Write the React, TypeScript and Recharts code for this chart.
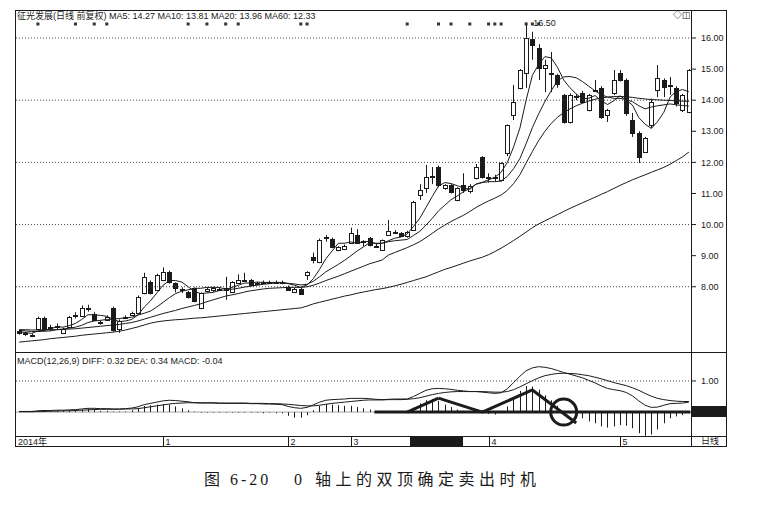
import React from "react";
import {
  Bar,
  ComposedChart,
  Line,
  ReferenceDot,
  ReferenceLine,
  XAxis,
  YAxis,
} from "recharts";

// daily candles (price units)
const opens = [
  6.58, 6.5, 6.42, 6.64, 7.0, 6.7, 6.72, 6.52, 6.71, 7.08,
  7.07, 7.3, 7.13, 6.84, 6.94, 7.32, 6.64, 7.0, 7.1, 7.16,
  7.8, 8.15, 7.9, 8.22, 8.48, 8.12, 7.92, 7.83, 7.96, 7.32,
  7.86, 7.88, 7.92, 7.9, 7.83, 8.12, 8.22, 8.22, 8.1, 8.16,
  8.14, 8.15, 8.16, 8.0, 7.84, 7.93, 8.38, 8.96, 8.8, 9.58,
  9.54, 9.18, 9.22, 9.41, 9.67, 9.44, 9.57, 9.3, 9.18, 9.67,
  9.76, 9.73, 9.63, 9.83, 10.95, 11.18, 11.56, 11.85, 11.18, 11.27,
  10.79, 11.27, 11.08, 11.5, 12.17, 11.5, 11.52, 11.43, 12.3, 13.52,
  14.39, 14.87, 15.97, 15.68, 15.04, 14.87, 14.81, 14.17, 13.3, 14.1,
  14.23, 13.68, 14.33, 14.39, 13.52, 14.23, 14.87, 14.65, 13.36, 12.95,
  12.33, 13.2, 14.33, 14.65, 14.49, 14.39, 13.68, 13.62,
];
const highs = [
  6.62, 6.55, 6.5, 7.04, 7.04, 6.78, 6.82, 6.68, 7.06, 7.18,
  7.4, 7.42, 7.18, 6.92, 7.08, 7.36, 6.95, 7.08, 7.2, 7.72,
  8.45, 8.2, 8.42, 8.62, 8.52, 8.14, 7.98, 7.86, 7.98, 7.82,
  7.98, 8.0, 7.98, 8.32, 8.18, 8.4, 8.45, 8.25, 8.16, 8.2,
  8.2, 8.2, 8.2, 8.04, 7.96, 7.96, 8.5, 9.1, 9.55, 9.66,
  9.58, 9.3, 9.36, 9.9, 9.85, 9.5, 9.6, 9.38, 9.52, 10.15,
  9.82, 9.76, 9.8, 10.76, 11.3, 11.92, 11.85, 11.9, 11.3, 11.3,
  11.2, 11.65, 11.3, 11.95, 12.2, 11.65, 11.6, 12.0, 13.22, 14.49,
  15.0, 16.5, 16.2, 15.8, 15.3, 15.55, 14.85, 14.2, 14.22, 14.2,
  14.3, 14.2, 14.65, 14.45, 13.72, 14.97, 14.97, 14.7, 13.59, 13.0,
  12.82, 14.05, 15.13, 14.7, 14.74, 14.45, 14.2, 15.0,
];
const lows = [
  6.46, 6.42, 6.38, 6.6, 6.58, 6.58, 6.62, 6.48, 6.68, 6.98,
  7.05, 7.2, 6.9, 6.78, 6.9, 6.56, 6.52, 6.96, 7.06, 7.12,
  7.76, 7.75, 7.86, 8.18, 8.1, 7.82, 7.8, 7.62, 7.5, 7.28,
  7.82, 7.84, 7.86, 7.58, 7.8, 8.1, 8.18, 8.02, 8.06, 8.08,
  8.1, 8.1, 8.08, 7.88, 7.8, 7.74, 8.22, 8.75, 8.76, 9.45,
  9.24, 9.14, 9.18, 9.38, 9.38, 9.3, 9.3, 9.26, 9.15, 9.64,
  9.7, 9.6, 9.58, 9.8, 10.79, 11.02, 11.3, 11.2, 11.12, 11.0,
  10.75, 11.02, 11.0, 11.45, 11.48, 11.35, 11.4, 11.38, 12.2, 13.36,
  14.35, 14.4, 15.3, 14.65, 14.26, 14.26, 14.4, 13.25, 13.25, 14.0,
  13.9, 13.64, 14.26, 13.4, 13.3, 14.17, 14.6, 13.5, 12.82, 11.98,
  12.3, 13.1, 14.1, 14.1, 14.17, 13.8, 13.62, 13.58,
];
const closes = [
  6.5, 6.47, 6.46, 7.0, 6.64, 6.68, 6.73, 6.64, 7.03, 7.06,
  7.32, 7.32, 6.93, 6.86, 7.03, 6.61, 6.9, 7.03, 7.16, 7.67,
  8.32, 7.8, 8.38, 8.48, 8.15, 7.96, 7.9, 7.67, 7.55, 7.8,
  7.93, 7.96, 7.9, 7.95, 8.15, 8.22, 8.2, 8.06, 8.12, 8.12,
  8.16, 8.13, 8.12, 7.9, 7.93, 7.77, 8.48, 8.86, 9.5, 9.6,
  9.28, 9.28, 9.32, 9.73, 9.41, 9.46, 9.34, 9.32, 9.5, 9.8,
  9.77, 9.64, 9.76, 10.73, 11.11, 11.53, 11.55, 11.27, 11.27, 11.05,
  11.18, 11.11, 11.24, 11.85, 11.53, 11.52, 11.5, 11.98, 13.2, 13.94,
  14.97, 16.0, 15.77, 15.04, 15.13, 14.85, 14.52, 13.3, 14.17, 14.12,
  13.94, 14.17, 14.31, 13.46, 13.68, 14.65, 14.65, 13.59, 12.95, 12.17,
  12.78, 13.95, 14.71, 14.42, 14.48, 13.91, 14.17, 14.97,
];

// moving averages as drawn in the picture
const ma5 = [
  6.55, 6.53, 6.5, 6.58, 6.6, 6.64, 6.72, 6.7, 6.75, 6.82,
  6.95, 7.1, 7.1, 7.08, 7.05, 6.95, 6.88, 6.9, 6.95, 7.1,
  7.35, 7.55, 7.8, 8.05, 8.2, 8.2, 8.15, 8.0, 7.85, 7.78,
  7.8, 7.82, 7.88, 7.9, 7.98, 8.05, 8.12, 8.12, 8.15, 8.14,
  8.14, 8.14, 8.14, 8.1, 8.05, 7.98, 8.06, 8.26, 8.56, 8.9,
  9.15, 9.4, 9.4, 9.44, 9.4, 9.44, 9.46, 9.38, 9.4, 9.48,
  9.56, 9.6, 9.7, 9.94, 10.2, 10.55, 10.9, 11.24, 11.35, 11.32,
  11.25, 11.18, 11.13, 11.3, 11.36, 11.44, 11.52, 11.68, 12.0, 12.5,
  13.1, 14.0, 14.8, 15.15, 15.4, 15.36, 15.06, 14.65, 14.4, 14.2,
  14.05, 14.06, 14.15, 13.98, 13.86, 13.98, 14.14, 14.0, 13.84, 13.44,
  13.23, 13.09, 13.31, 13.61, 14.1, 14.29, 14.34, 14.27,
];
const ma10 = [
  6.6, 6.58, 6.56, 6.56, 6.57, 6.58, 6.62, 6.64, 6.67, 6.7,
  6.76, 6.85, 6.9, 6.92, 6.95, 6.96, 6.98, 7.0, 7.02, 7.09,
  7.15, 7.22, 7.35, 7.5, 7.65, 7.78, 7.86, 7.9, 7.95, 7.95,
  7.98, 7.98, 7.98, 7.92, 7.92, 7.95, 7.99, 8.02, 8.05, 8.08,
  8.1, 8.12, 8.13, 8.11, 8.09, 8.06, 8.08, 8.18, 8.32, 8.48,
  8.6, 8.72, 8.85, 9.0, 9.15, 9.28, 9.42, 9.4, 9.4, 9.45,
  9.48, 9.5, 9.52, 9.65, 9.78, 9.98, 10.2, 10.44, 10.62, 10.8,
  10.92, 11.06, 11.16, 11.3, 11.35, 11.38, 11.38, 11.4, 11.55, 11.8,
  12.12, 12.6, 13.12, 13.56, 13.96, 14.3, 14.62, 14.75, 14.76, 14.72,
  14.6, 14.45, 14.3, 14.18, 14.1, 14.06, 14.06, 14.02, 13.95, 13.82,
  13.72, 13.78, 13.82, 13.85, 13.88, 13.85, 13.83, 13.81,
];
const ma20 = [
  6.62, 6.62, 6.61, 6.61, 6.61, 6.62, 6.62, 6.63, 6.64, 6.65,
  6.67, 6.69, 6.71, 6.73, 6.75, 6.77, 6.79, 6.82, 6.85, 6.9,
  6.96, 7.02, 7.08, 7.14, 7.19, 7.24, 7.3, 7.35, 7.4, 7.45,
  7.52, 7.58, 7.64, 7.7, 7.74, 7.78, 7.83, 7.87, 7.9, 7.93,
  7.95, 7.96, 7.97, 7.98, 7.98, 7.98, 8.0, 8.05, 8.12, 8.2,
  8.27, 8.34, 8.42, 8.5, 8.58, 8.66, 8.74, 8.8, 8.86, 9.02,
  9.1, 9.18, 9.26, 9.35, 9.45, 9.58, 9.72, 9.86, 9.98, 10.1,
  10.2, 10.3, 10.42, 10.55, 10.66, 10.76, 10.85, 10.95, 11.1, 11.32,
  11.6, 11.98, 12.35, 12.7, 13.0, 13.25, 13.45, 13.6, 13.72, 13.82,
  13.9, 13.97, 14.03, 14.07, 14.1, 14.12, 14.12, 14.11, 14.09, 14.06,
  14.04, 14.02, 14.01, 14.0, 13.99, 13.98, 13.97, 13.96,
];
const ma60 = [
  6.22, 6.24, 6.26, 6.28, 6.3, 6.33, 6.35, 6.37, 6.39, 6.41,
  6.44, 6.46, 6.48, 6.5, 6.52, 6.54, 6.57, 6.61, 6.66, 6.71,
  6.77, 6.83, 6.87, 6.9, 6.92, 6.94, 6.95, 6.97, 6.99, 7.0,
  7.02, 7.04, 7.06, 7.08, 7.1, 7.12, 7.14, 7.16, 7.18, 7.2,
  7.22, 7.24, 7.26, 7.28, 7.3, 7.32, 7.38, 7.45, 7.5, 7.55,
  7.6, 7.65, 7.7, 7.74, 7.79, 7.83, 7.87, 7.91, 7.94, 7.98,
  8.03, 8.08, 8.14, 8.2, 8.26, 8.32, 8.4, 8.48, 8.56, 8.62,
  8.69, 8.76, 8.83, 8.89, 8.95, 9.03, 9.13, 9.24, 9.36, 9.49,
  9.62, 9.76, 9.9, 10.02, 10.12, 10.22, 10.32, 10.42, 10.52, 10.61,
  10.7, 10.79, 10.88, 10.97, 11.06, 11.16, 11.26, 11.35, 11.44, 11.52,
  11.6, 11.68, 11.76, 11.84, 11.94, 12.06, 12.18, 12.33,
];

// MACD(12,26,9)
const diff = [
  0.02, 0.02, 0.02, 0.04, 0.05, 0.05, 0.06, 0.06, 0.07, 0.08,
  0.1, 0.12, 0.12, 0.11, 0.11, 0.1, 0.1, 0.11, 0.13, 0.17,
  0.24, 0.28, 0.32, 0.36, 0.38, 0.37, 0.35, 0.33, 0.3, 0.29,
  0.29, 0.29, 0.28, 0.28, 0.28, 0.28, 0.28, 0.27, 0.27, 0.26,
  0.26, 0.25, 0.24, 0.18, 0.14, 0.12, 0.15, 0.23, 0.32, 0.38,
  0.4, 0.41, 0.42, 0.44, 0.44, 0.44, 0.43, 0.41, 0.4, 0.41,
  0.42, 0.42, 0.42, 0.5, 0.6, 0.7, 0.75, 0.76, 0.75, 0.73,
  0.7, 0.68, 0.66, 0.66, 0.64, 0.62, 0.6, 0.62, 0.75, 0.95,
  1.15, 1.33, 1.42, 1.46, 1.44, 1.4, 1.34, 1.27, 1.22, 1.16,
  1.1, 1.02, 0.94, 0.84, 0.76, 0.72, 0.69, 0.63, 0.52, 0.36,
  0.22, 0.15, 0.16, 0.22, 0.27, 0.28, 0.29, 0.32,
];
const dea = [
  0.01, 0.01, 0.01, 0.02, 0.02, 0.03, 0.03, 0.04, 0.04, 0.05,
  0.06, 0.07, 0.08, 0.09, 0.09, 0.09, 0.09, 0.1, 0.1, 0.11,
  0.14, 0.17, 0.2, 0.23, 0.26, 0.28, 0.29, 0.3, 0.3, 0.3,
  0.3, 0.3, 0.29, 0.29, 0.29, 0.29, 0.29, 0.28, 0.28, 0.28,
  0.27, 0.27, 0.26, 0.25, 0.23, 0.21, 0.2, 0.2, 0.22, 0.25,
  0.28, 0.3, 0.32, 0.34, 0.36, 0.38, 0.39, 0.39, 0.39, 0.4,
  0.4, 0.4, 0.41, 0.43, 0.46, 0.51, 0.56, 0.6, 0.63, 0.65,
  0.66, 0.66, 0.66, 0.66, 0.66, 0.65, 0.64, 0.64, 0.66, 0.72,
  0.81, 0.91, 1.01, 1.1, 1.17, 1.21, 1.24, 1.25, 1.24, 1.23,
  1.2, 1.17, 1.12, 1.07, 1.01, 0.95, 0.9, 0.85, 0.78, 0.7,
  0.6, 0.51, 0.44, 0.4, 0.37, 0.35, 0.34, 0.34,
];
const macd = [
  0.02, 0.02, 0.02, 0.04, 0.06, 0.04, 0.06, 0.04, 0.06, 0.06,
  0.08, 0.1, 0.08, 0.04, 0.04, 0.02, 0.02, 0.02, 0.06, 0.12,
  0.2, 0.22, 0.24, 0.26, 0.24, 0.18, 0.12, 0.06, 0.02, -0.02,
  -0.02, -0.02, -0.02, -0.02, -0.02, -0.02, -0.02, -0.02, -0.02, -0.04,
  -0.02, -0.04, -0.04, -0.12, -0.18, -0.18, -0.1, 0.06, 0.2, 0.26,
  0.24, 0.22, 0.2, 0.2, 0.16, 0.12, 0.08, 0.04, 0.02, 0.02,
  0.04, 0.04, 0.02, 0.14, 0.28, 0.38, 0.42, 0.36, 0.24, 0.16,
  0.08, 0.04, 0.02, 0.02, -0.04, -0.06, -0.08, -0.04, 0.18, 0.46,
  0.68, 0.84, 0.82, 0.72, 0.54, 0.38, 0.2, 0.04, -0.04, -0.14,
  -0.2, -0.3, -0.36, -0.46, -0.5, -0.46, -0.42, -0.44, -0.52, -0.68,
  -0.76, -0.72, -0.56, -0.36, -0.2, -0.14, -0.1, -0.04,
];

const priceTicks = [8, 9, 10, 11, 12, 13, 14, 15, 16];
const gridPrices = [8, 10, 12, 14, 16];
const monthStarts = [0, 23, 43, 53, 75, 96];
const monthLabels = ["2014年", "1", "2", "3", "4", "5"];
const eventDays = [3, 9, 12, 14, 27, 30, 33, 35, 45, 46, 62, 67, 69, 72, 75, 76, 77, 81, 82, 83];
const eventLevel = 16.45;

// hand-drawn "double top" marks in the MACD pane (day, value)
const zeroMark = [57, 107];
const topPath = [
  [62, 0],
  [67, 0.45],
  [74, 0],
  [82, 0.71],
  [89, -0.35],
];
const circleAt = [87, 0];

const ink = "#1b1b1b";
const font = "'Liberation Sans', 'Noto Sans CJK SC', sans-serif";

const rows = opens.map((open, i) => ({
  day: i,
  open,
  high: highs[i],
  low: lows[i],
  close: closes[i],
  range: [lows[i], highs[i]],
  ma5: ma5[i],
  ma10: ma10[i],
  ma20: ma20[i],
  ma60: ma60[i],
  diff: diff[i],
  dea: dea[i],
  macd: macd[i],
  event: eventDays.includes(i) ? eventLevel : null,
}));

const peakHigh = Math.max(...highs);
const peakDay = highs.indexOf(peakHigh);

function Candle(props: any) {
  const { x, y, width, height, payload } = props;
  if (payload == null || x == null || y == null) return null;
  const top = Math.min(y, y + height);
  const span = payload.high - payload.low;
  const k = span > 0 ? Math.abs(height) / span : 0;
  const toY = (v: number) => top + (payload.high - v) * k;
  const cx = Math.floor(x + width / 2) + 0.5;
  const bodyTop = Math.round(toY(Math.max(payload.open, payload.close))) + 0.5;
  const bodyBot = Math.max(bodyTop + 1, Math.round(toY(Math.min(payload.open, payload.close))) + 0.5);
  const rising = payload.close > payload.open;
  return (
    <g>
      <line x1={cx} x2={cx} y1={toY(payload.high)} y2={bodyTop} stroke={ink} />
      <line x1={cx} x2={cx} y1={bodyBot} y2={toY(payload.low)} stroke={ink} />
      <rect
        x={cx - 2}
        y={bodyTop}
        width={4}
        height={bodyBot - bodyTop}
        fill={rising ? "#fff" : ink}
        stroke={ink}
      />
    </g>
  );
}

function MacdBar(props: any) {
  const { x, y, width, height } = props;
  if (x == null || y == null) return null;
  const cx = Math.floor(x + width / 2) + 0.5;
  return (
    <line
      x1={cx}
      x2={cx}
      y1={Math.min(y, y + height)}
      y2={Math.max(y, y + height)}
      stroke={ink}
    />
  );
}

function EventDot(props: any) {
  const { cx, cy, value, index } = props;
  if (value == null || cy == null) return <g key={`ev-${index}`} />;
  return <rect key={`ev-${index}`} x={cx - 1.5} y={cy - 1.5} width={3} height={3} fill="#333" />;
}

function MonthTick(props: any) {
  const { x, payload } = props;
  const k = monthStarts.indexOf(payload.value);
  if (k < 0) return <g />;
  const lx = Math.round(x) + 0.5;
  return (
    <g>
      {k > 0 && <line x1={lx} x2={lx} y1={83} y2={94} stroke={ink} />}
      <text x={k > 0 ? lx + 2 : 3} y={92} fontSize={9} fill={ink} fontFamily={font}>
        {monthLabels[k]}
      </text>
    </g>
  );
}

const abs = (left: number, top: number, width: number, height: number, extra = {}) => ({
  position: "absolute" as const,
  left,
  top,
  width,
  height,
  ...extra,
});

export default function App() {
  return (
    <div style={abs(0, 0, 758, 516, { background: "#fff", fontFamily: font, color: ink })}>
      {/* price pane */}
      <div style={abs(15, 10, 712, 343)}>
        <ComposedChart
          width={712}
          height={343}
          data={rows}
          margin={{ top: 0, right: 0, bottom: 0, left: 1 }}
        >
          <XAxis dataKey="day" type="category" hide />
          <YAxis
            orientation="right"
            width={35}
            domain={[5.87, 16.9]}
            allowDataOverflow
            ticks={priceTicks}
            interval={0}
            axisLine={false}
            tickLine={{ stroke: ink }}
            tickSize={4}
            tickMargin={5}
            tick={{ fontSize: 9, fill: ink, fontFamily: font }}
            tickFormatter={(v: number) => v.toFixed(2)}
          />
          {gridPrices.map((p) => (
            <ReferenceLine key={p} y={p} stroke="#444" strokeDasharray="1 2" />
          ))}
          <Bar dataKey="range" barSize={5} shape={(p: any) => <Candle {...p} />} isAnimationActive={false} />
          <Line dataKey="ma60" stroke={ink} dot={false} isAnimationActive={false} />
          <Line dataKey="ma20" stroke={ink} dot={false} isAnimationActive={false} />
          <Line dataKey="ma10" stroke={ink} dot={false} isAnimationActive={false} />
          <Line dataKey="ma5" stroke={ink} dot={false} isAnimationActive={false} />
          <Line
            dataKey="event"
            stroke="none"
            dot={(p: any) => <EventDot {...p} />}
            activeDot={false}
            isAnimationActive={false}
          />
          <ReferenceDot
            x={peakDay}
            y={peakHigh}
            r={0}
            label={{ value: peakHigh.toFixed(2), position: "right", offset: 7, fontSize: 9, fill: ink }}
          />
        </ComposedChart>
      </div>

      {/* MACD pane + time axis */}
      <div style={abs(15, 353, 712, 94)}>
        <ComposedChart
          width={712}
          height={94}
          data={rows}
          margin={{ top: 0, right: 0, bottom: 0, left: 1 }}
        >
          <XAxis
            dataKey="day"
            type="category"
            height={11}
            axisLine={false}
            tickLine={false}
            interval={0}
            tick={(p: any) => <MonthTick {...p} />}
          />
          <YAxis
            orientation="right"
            width={35}
            domain={[-0.77, 1.9]}
            allowDataOverflow
            ticks={[1]}
            axisLine={false}
            tickLine={{ stroke: ink }}
            tickSize={4}
            tickMargin={5}
            tick={{ fontSize: 9, fill: ink, fontFamily: font }}
            tickFormatter={(v: number) => v.toFixed(2)}
          />
          <ReferenceLine y={1} stroke="#444" strokeDasharray="1 2" />
          <ReferenceLine y={0} stroke="#666" strokeWidth={0.6} />
          <Bar dataKey="macd" barSize={1} shape={(p: any) => <MacdBar {...p} />} isAnimationActive={false} />
          <Line dataKey="dea" stroke={ink} dot={false} isAnimationActive={false} />
          <Line dataKey="diff" stroke={ink} dot={false} isAnimationActive={false} />
          <ReferenceLine
            segment={[
              { x: zeroMark[0], y: 0 },
              { x: zeroMark[1], y: 0 },
            ]}
            stroke={ink}
            strokeWidth={3}
            strokeLinecap="square"
          />
          {topPath.slice(1).map((pt, i) => (
            <ReferenceLine
              key={`tp-${i}`}
              segment={[
                { x: topPath[i][0], y: topPath[i][1] },
                { x: pt[0], y: pt[1] },
              ]}
              stroke={ink}
              strokeWidth={3}
            />
          ))}
          <ReferenceDot x={circleAt[0]} y={circleAt[1]} r={13} fill="none" stroke={ink} strokeWidth={3} />
        </ComposedChart>
      </div>

      {/* frame */}
      <div style={abs(15, 10, 712, 437, { border: `1px solid ${ink}`, boxSizing: "border-box", pointerEvents: "none" })} />
      <div style={abs(15, 352, 712, 1, { background: ink })} />
      <div style={abs(15, 436, 712, 1, { background: ink })} />
      <div style={abs(691, 10, 1, 437, { background: ink })} />
      <div style={abs(692, 406, 35, 11, { background: ink })} />
      <div style={abs(410, 437, 53, 9, { background: ink })} />

      {/* texts */}
      <div style={abs(17, 11, 400, 11, { fontSize: 9, lineHeight: "11px", whiteSpace: "nowrap" })}>
        征光发展(日线 前复权) MA5: 14.27 MA10: 13.81 MA20: 13.96 MA60: 12.33
      </div>
      <div style={abs(673, 10, 18, 11, { fontSize: 9, lineHeight: "11px" })}>◇◫</div>
      <div style={abs(17, 356, 300, 11, { fontSize: 9, lineHeight: "11px", whiteSpace: "nowrap" })}>
        MACD(12,26,9) DIFF: 0.32 DEA: 0.34 MACD: -0.04
      </div>
      <div style={abs(701, 436, 24, 11, { fontSize: 9, lineHeight: "11px" })}>日线</div>
      <div
        style={abs(204, 471, 90, 18, {
          fontFamily: "'Liberation Serif', 'Noto Sans CJK SC', serif",
          fontSize: 16,
          lineHeight: "18px",
          letterSpacing: 3,
          whiteSpace: "nowrap",
        })}
      >
        图 6-20
      </div>
      <div
        style={abs(294, 471, 260, 18, {
          fontFamily: "'Liberation Serif', 'Noto Sans CJK SC', serif",
          fontSize: 16,
          lineHeight: "18px",
          letterSpacing: 4.5,
          whiteSpace: "nowrap",
        })}
      >
        0 轴上的双顶确定卖出时机
      </div>
    </div>
  );
}
